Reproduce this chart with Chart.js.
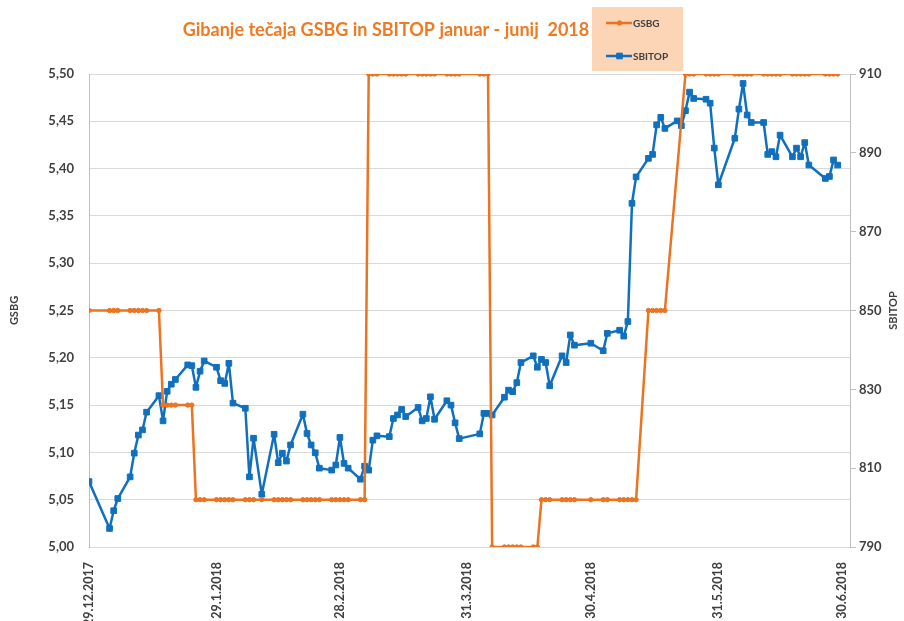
<!DOCTYPE html>
<html>
<head>
<meta charset="utf-8">
<script src="https://cdn.jsdelivr.net/npm/chart.js@4.4.1/dist/chart.umd.min.js"></script>
<style>
html,body{margin:0;padding:0;background:#ffffff;}
#wrap{position:relative;width:904px;height:621px;}
</style>
</head>
<body>
<div id="wrap"><canvas id="c" width="904" height="621"></canvas></div>
<script>
// ---- DATA ----
const chartTitle = 'Gibanje tečaja GSBG in SBITOP januar - junij  2018';
const leftAxisTitle = 'GSBG';
const rightAxisTitle = 'SBITOP';
const startDate = '2017-12-29';
const tickLabels = ['29.12.2017','29.1.2018','28.2.2018','31.3.2018','30.4.2018','31.5.2018','30.6.2018'];

const tradingDates = [
 '2017-12-29','2018-01-03','2018-01-04','2018-01-05','2018-01-08','2018-01-09','2018-01-10','2018-01-11','2018-01-12',
 '2018-01-15','2018-01-16','2018-01-17','2018-01-18','2018-01-19','2018-01-22','2018-01-23','2018-01-24','2018-01-25',
 '2018-01-26','2018-01-29','2018-01-30','2018-01-31','2018-02-01','2018-02-02','2018-02-05','2018-02-06','2018-02-07',
 '2018-02-09','2018-02-12','2018-02-13','2018-02-14','2018-02-15','2018-02-16','2018-02-19','2018-02-20','2018-02-21',
 '2018-02-22','2018-02-23','2018-02-26','2018-02-27','2018-02-28','2018-03-01','2018-03-02','2018-03-05','2018-03-06',
 '2018-03-07','2018-03-08','2018-03-09','2018-03-12','2018-03-13','2018-03-14','2018-03-15','2018-03-16','2018-03-19',
 '2018-03-20','2018-03-21','2018-03-22','2018-03-23','2018-03-26','2018-03-27','2018-03-28','2018-03-29','2018-04-03',
 '2018-04-04','2018-04-05','2018-04-06','2018-04-09','2018-04-10','2018-04-11','2018-04-12','2018-04-13','2018-04-16',
 '2018-04-17','2018-04-18','2018-04-19','2018-04-20','2018-04-23','2018-04-24','2018-04-25','2018-04-26','2018-04-30',
 '2018-05-03','2018-05-04','2018-05-07','2018-05-08','2018-05-09','2018-05-10','2018-05-11','2018-05-14','2018-05-15',
 '2018-05-16','2018-05-17','2018-05-18','2018-05-21','2018-05-22','2018-05-23','2018-05-24','2018-05-25','2018-05-28',
 '2018-05-29','2018-05-30','2018-05-31','2018-06-04','2018-06-05','2018-06-06','2018-06-07','2018-06-08','2018-06-11',
 '2018-06-12','2018-06-13','2018-06-14','2018-06-15','2018-06-18','2018-06-19','2018-06-20','2018-06-21','2018-06-22',
 '2018-06-26','2018-06-27','2018-06-28','2018-06-29'
];

const gsbgValues = [
 5.25,5.25,5.25,5.25,5.25,5.25,5.25,5.25,5.25,
 5.25,5.15,5.15,5.15,5.15,5.15,5.15,5.05,5.05,
 5.05,5.05,5.05,5.05,5.05,5.05,5.05,5.05,5.05,
 5.05,5.05,5.05,5.05,5.05,5.05,5.05,5.05,5.05,
 5.05,5.05,5.05,5.05,5.05,5.05,5.05,5.05,5.05,
 5.50,5.50,5.50,5.50,5.50,5.50,5.50,5.50,5.50,
 5.50,5.50,5.50,5.50,5.50,5.50,5.50,5.50,5.50,
 5.50,5.50,5.00,5.00,5.00,5.00,5.00,5.00,5.00,
 5.00,5.05,5.05,5.05,5.05,5.05,5.05,5.05,5.05,
 5.05,5.05,5.05,5.05,5.05,5.05,5.05,5.25,5.25,
 5.25,5.25,5.25,null,null,5.50,5.50,5.50,5.50,
 5.50,5.50,5.50,5.50,5.50,5.50,5.50,5.50,5.50,
 5.50,5.50,5.50,5.50,5.50,5.50,5.50,5.50,5.50,
 5.50,5.50,5.50,5.50
];

const sbitopValues = [
 806.6,794.7,799.2,802.3,807.8,813.8,818.4,819.7,824.2,
 828.4,822.0,829.5,831.3,832.5,836.2,836.0,830.5,834.6,
 837.2,835.6,832.2,831.5,836.6,826.5,825.2,807.8,817.6,
 803.4,818.6,811.4,813.8,811.8,815.9,823.7,818.8,815.9,
 813.9,810.0,809.5,810.8,817.8,811.2,810.0,807.2,810.5,
 809.5,817.1,818.2,818.0,822.6,823.5,824.9,823.1,825.4,
 822.0,822.6,828.1,822.4,827.1,826.0,821.5,817.5,818.7,
 823.9,823.9,823.5,828.0,829.8,829.4,831.7,836.8,838.5,
 835.6,837.6,836.8,830.9,838.5,836.8,843.8,841.2,841.7,
 839.8,844.2,845.0,843.5,847.2,877.2,883.9,888.6,889.6,
 897.1,899.0,896.2,898.1,896.9,900.7,905.4,903.8,903.6,
 902.6,891.2,881.9,893.7,901.1,907.6,899.6,897.7,897.7,
 889.6,890.3,889.0,894.5,889.0,891.2,889.0,892.6,886.9,
 883.5,884.0,888.2,886.9
];

const gsbgRange = [5.00, 5.50, 0.05];
const sbitopRange = [790, 910, 20];

// ---- helpers ----
function isoToDay(s){
  const p = s.split('-').map(Number);
  const b = startDate.split('-').map(Number);
  return (Date.UTC(p[0],p[1]-1,p[2]) - Date.UTC(b[0],b[1]-1,b[2]))/86400000;
}
function dmyToDay(s){
  const p = s.split('.').map(Number);
  return isoToDay(p[2]+'-'+p[1]+'-'+p[0]);
}
const xDays = tradingDates.map(isoToDay);
const tickDays = tickLabels.map(dmyToDay);

const ORANGE = '#EC7320';
const BLUE = '#1070BE';
const TXT = '#404040';
const FONT = 'Lato';

const decor = {
  id: 'decor',
  afterLayout(chart){
    const t = chart.titleBlock;
    if (t) { t.left = 386 - 320; t.right = 386 + 320; }
  },
  afterDraw(chart){
    const ctx = chart.ctx;
    ctx.save();
    // legend box
    ctx.fillStyle = '#FBD5B6';
    ctx.fillRect(592, 7, 91, 64);
    const rows = [23, 56];
    chart.data.datasets.forEach((ds, i) => {
      const y = rows[i];
      ctx.strokeStyle = ds.borderColor;
      ctx.lineWidth = 2.5;
      ctx.beginPath(); ctx.moveTo(606, y); ctx.lineTo(632, y); ctx.stroke();
      ctx.fillStyle = ds.pointBackgroundColor;
      ctx.strokeStyle = ds.pointBorderColor;
      ctx.lineWidth = ds.pointBorderWidth;
      Chart.helpers.drawPoint(ctx, {pointStyle: ds.pointStyle, radius: ds.pointRadius, rotation: 0, borderWidth: ds.pointBorderWidth}, 619.5, y);
      ctx.fillStyle = TXT;
      ctx.font = 'bold 10px ' + FONT;
      ctx.textBaseline = 'middle';
      ctx.textAlign = 'left';
      ctx.fillText(ds.label, 633, y + 0.5);
    });
    // right axis title (rotated like Excel)
    const sa = chart.scales.y1;
    ctx.translate(893, (sa.top + sa.bottom) / 2);
    ctx.rotate(-Math.PI / 2);
    ctx.textAlign = 'center';
    ctx.textBaseline = 'middle';
    ctx.fillStyle = TXT;
    ctx.font = 'bold 11px ' + FONT;
    ctx.fillText(rightAxisTitle, 0, 0);
    ctx.restore();
  }
};

new Chart(document.getElementById('c'), {
  type: 'line',
  data: {
    datasets: [
      {
        label: 'GSBG',
        data: xDays.map((d, i) => ({x: d, y: gsbgValues[i]})),
        yAxisID: 'y',
        borderColor: ORANGE,
        backgroundColor: ORANGE,
        pointBackgroundColor: ORANGE,
        pointBorderColor: ORANGE,
        borderWidth: 2.5,
        borderJoinStyle: 'round',
        borderCapStyle: 'round',
        pointStyle: 'circle',
        pointRadius: 2.2,
        pointBorderWidth: 1,
        tension: 0,
        spanGaps: true
      },
      {
        label: 'SBITOP',
        data: xDays.map((d, i) => ({x: d, y: sbitopValues[i]})),
        yAxisID: 'y1',
        borderColor: BLUE,
        backgroundColor: BLUE,
        pointBackgroundColor: BLUE,
        pointBorderColor: BLUE,
        borderWidth: 2.5,
        borderJoinStyle: 'round',
        borderCapStyle: 'round',
        pointStyle: 'rect',
        pointRadius: 4,
        pointBorderWidth: 1,
        tension: 0,
        spanGaps: true
      }
    ]
  },
  options: {
    responsive: false,
    animation: false,
    devicePixelRatio: 1,
    layout: { padding: 0 },
    plugins: {
      legend: { display: false },
      tooltip: { enabled: false },
      title: {
        display: true,
        text: chartTitle,
        color: '#F07A22',
        font: { family: FONT, size: 18, weight: 'bold', lineHeight: 1.2 },
        padding: { top: 19.5, bottom: 32.9 }
      }
    },
    scales: {
      x: {
        type: 'linear',
        min: 0,
        max: 185,
        afterBuildTicks: (s) => { s.ticks = tickDays.map(v => ({value: v})); },
        afterFit: (s) => { s.height = 74; },
        grid: { display: false },
        border: { display: true, color: '#D9D9D9' },
        ticks: {
          autoSkip: false,
          minRotation: 90,
          maxRotation: 90,
          padding: 7,
          color: TXT,
          font: { family: FONT, size: 12.5, weight: 'bold' },
          callback: (v, i) => tickLabels[i]
        }
      },
      y: {
        position: 'left',
        min: gsbgRange[0],
        max: gsbgRange[1],
        afterFit: (s) => { s.width = 89; },
        ticks: {
          stepSize: gsbgRange[2],
          padding: 15,
          color: TXT,
          font: { family: FONT, size: 13, weight: 'bold' },
          callback: (v) => Number(v).toFixed(2).replace('.', ',')
        },
        grid: { color: '#D9D9D9', lineWidth: 1, drawTicks: false },
        border: { display: true, color: '#BFBFBF' },
        title: {
          display: true,
          text: leftAxisTitle,
          color: TXT,
          font: { family: FONT, size: 11, weight: 'bold', lineHeight: 1.2 },
          padding: { top: 8, bottom: 0 }
        }
      },
      y1: {
        position: 'right',
        min: sbitopRange[0],
        max: sbitopRange[1],
        afterFit: (s) => { s.width = 54; },
        ticks: {
          stepSize: sbitopRange[2],
          padding: 3,
          color: TXT,
          font: { family: FONT, size: 13, weight: 'bold' }
        },
        grid: { drawOnChartArea: false, drawTicks: true, tickLength: 6, color: '#BFBFBF' },
        border: { display: true, color: '#BFBFBF' },
        title: { display: false }
      }
    }
  },
  plugins: [decor]
});
</script>
</body>
</html>
